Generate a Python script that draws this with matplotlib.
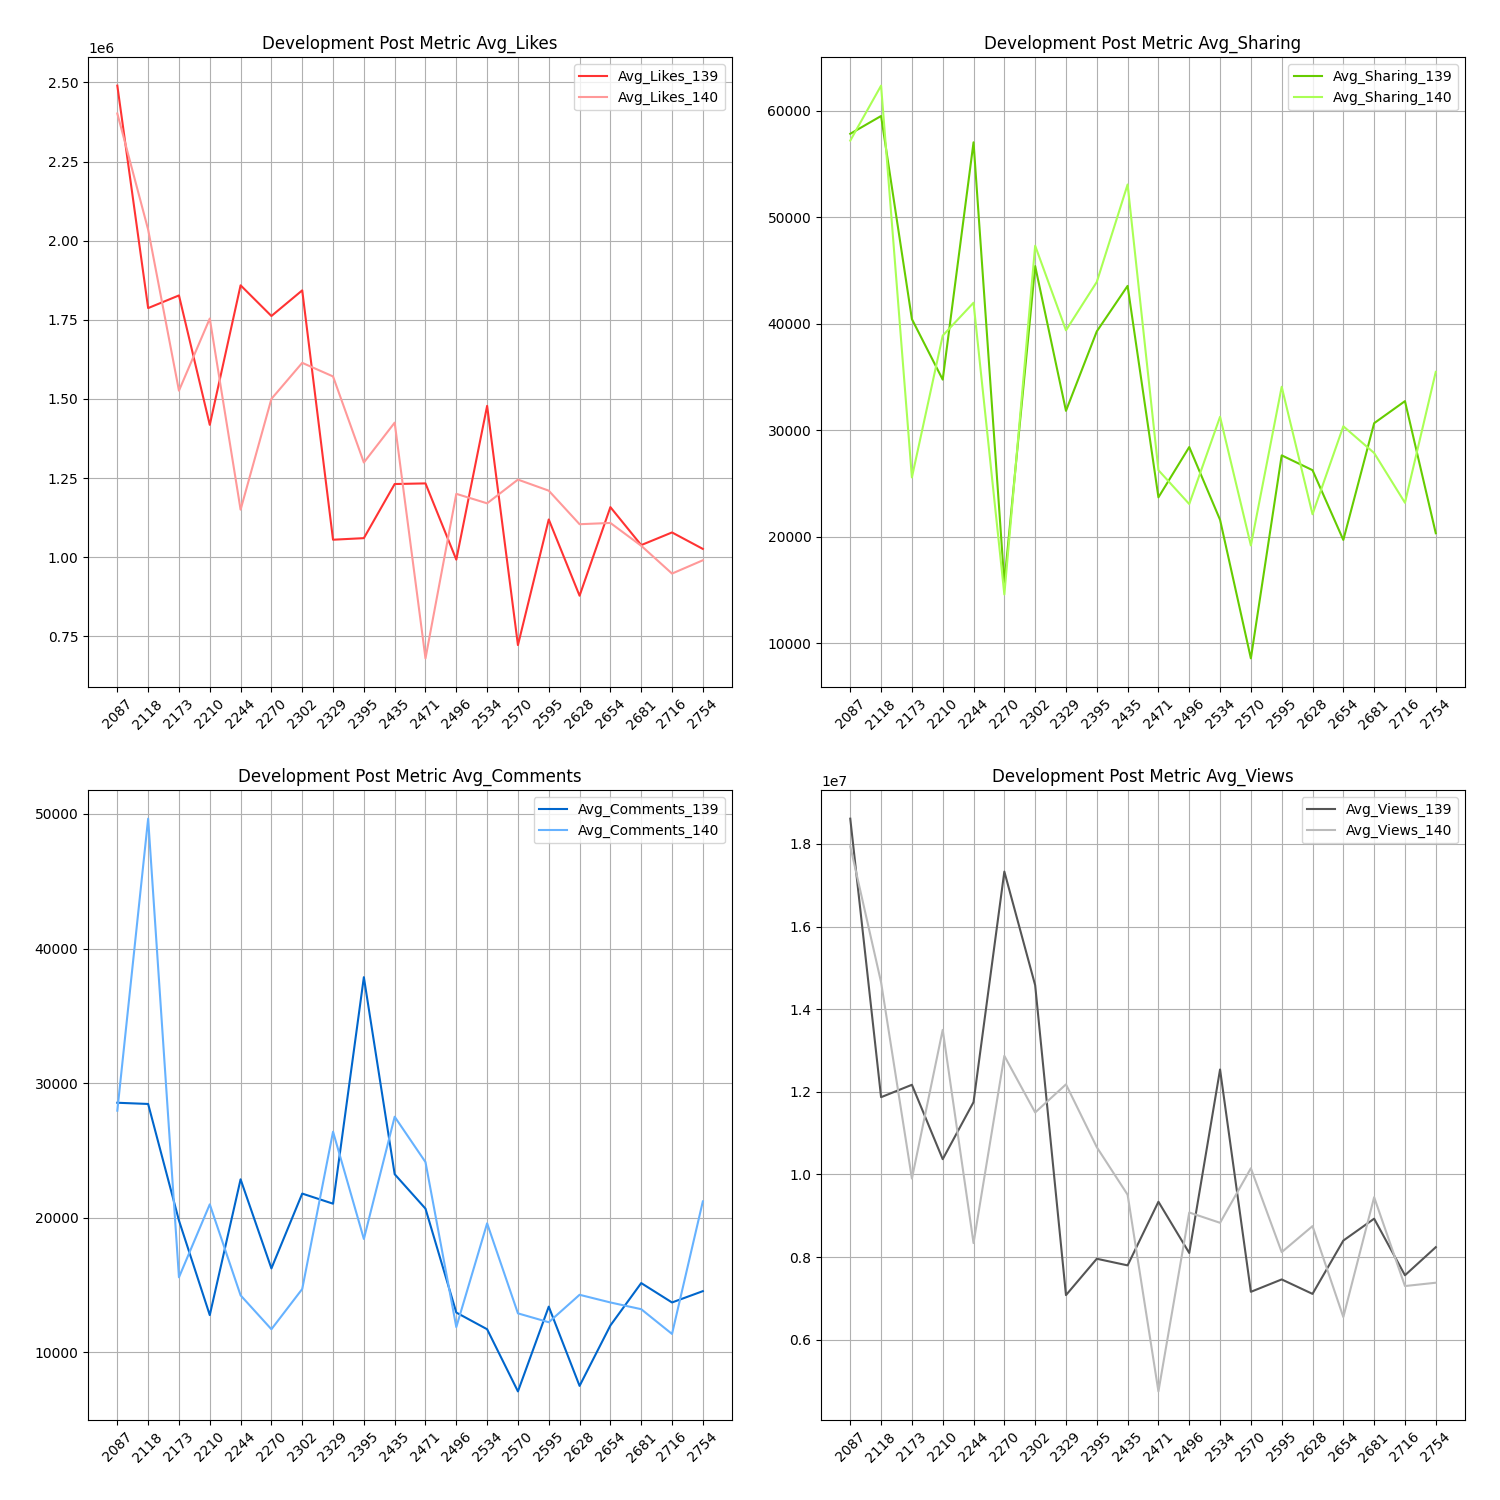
import matplotlib
matplotlib.use('Agg')
import matplotlib.pyplot as plt

# 帖子编号（x 轴，按类别等距显示）
post_ids = ['2087', '2118', '2173', '2210', '2244', '2270', '2302', '2329', '2395', '2435',
            '2471', '2496', '2534', '2570', '2595', '2628', '2654', '2681', '2716', '2754']

# 平均点赞数
likes_139 = [2.49e6, 1.787e6, 1.827e6, 1.418e6, 1.859e6, 1.762e6, 1.843e6, 1.055e6, 1.06e6, 1.231e6,
             1.233e6, 0.992e6, 1.478e6, 0.722e6, 1.119e6, 0.878e6, 1.158e6, 1.038e6, 1.078e6, 1.026e6]
likes_140 = [2.402e6, 2.035e6, 1.526e6, 1.754e6, 1.15e6, 1.50e6, 1.614e6, 1.571e6, 1.299e6, 1.425e6,
             0.68e6, 1.2e6, 1.17e6, 1.245e6, 1.21e6, 1.104e6, 1.108e6, 1.036e6, 0.948e6, 0.99e6]

# 平均分享数
sharing_139 = [57850, 59520, 40450, 34770, 57050, 15700, 45430, 31840, 39300, 43570,
               23720, 28440, 21610, 8600, 27660, 26270, 19720, 30680, 32750, 20350]
sharing_140 = [57210, 62370, 25590, 38900, 41990, 14600, 47340, 39400, 43940, 53090,
               26270, 23090, 31280, 19200, 34100, 22130, 30390, 27880, 23210, 35500]

# 平均评论数
comments_139 = [28540, 28450, 19790, 12760, 22850, 16230, 21790, 21040, 37870, 23230,
                20670, 12950, 11710, 7090, 13390, 7500, 11990, 15140, 13700, 14540]
comments_140 = [27950, 49650, 15570, 20990, 14230, 11710, 14700, 26390, 18420, 27500,
                24130, 11870, 19580, 12890, 12230, 14270, 13700, 13200, 11360, 21210]

# 平均浏览量
views_139 = [1.861e7, 1.187e7, 1.217e7, 1.037e7, 1.175e7, 1.733e7, 1.458e7, 0.708e7, 0.796e7, 0.780e7,
             0.934e7, 0.810e7, 1.254e7, 0.716e7, 0.746e7, 0.711e7, 0.840e7, 0.893e7, 0.756e7, 0.824e7]
views_140 = [1.794e7, 1.465e7, 0.990e7, 1.350e7, 0.834e7, 1.287e7, 1.150e7, 1.218e7, 1.066e7, 0.951e7,
             0.475e7, 0.908e7, 0.883e7, 1.015e7, 0.812e7, 0.875e7, 0.655e7, 0.945e7, 0.730e7, 0.738e7]

metrics = [
    ('Avg_Likes', likes_139, likes_140, '#ff3333', '#ff9999'),
    ('Avg_Sharing', sharing_139, sharing_140, '#66cc00', '#aaff55'),
    ('Avg_Comments', comments_139, comments_140, '#0066cc', '#66b2ff'),
    ('Avg_Views', views_139, views_140, '#555555', '#bbbbbb'),
]

fig, axes = plt.subplots(2, 2, figsize=(15, 15), dpi=100)

for ax, (name, s139, s140, c1, c2) in zip(axes.flat, metrics):
    ax.plot(post_ids, s139, color=c1, label=name + '_139')
    ax.plot(post_ids, s140, color=c2, label=name + '_140')
    ax.set_title('Development Post Metric ' + name)
    ax.legend(loc='upper right')
    ax.grid(True)
    ax.tick_params(axis='x', rotation=45)

plt.subplots_adjust(left=0.0587, right=0.9767, top=0.962, bottom=0.0533,
                    wspace=0.138, hspace=0.1635)
plt.savefig('out.png')
